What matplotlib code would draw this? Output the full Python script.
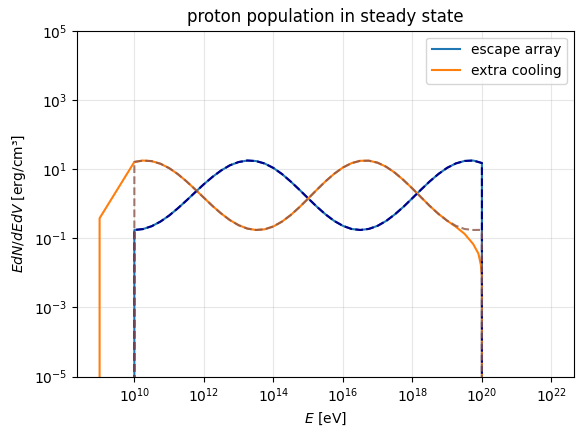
import matplotlib
matplotlib.use("Agg")
import matplotlib.pyplot as plt

# energies (log10 E/eV) on a quarter-decade grid from 1e10 to 1e20
log_e = [10 + 0.25 * i for i in range(41)]

# escape array (solid blue / dashed navy)
escape = [0.174, 0.185, 0.224, 0.304, 0.454, 0.735, 1.24, 2.14, 3.66, 5.98,
          9.18, 12.9, 16.0, 17.7, 17.1, 14.5, 10.8, 7.18, 4.36, 2.53,
          1.43, 0.820, 0.492, 0.318, 0.229, 0.186, 0.174, 0.187, 0.230, 0.320,
          0.496, 0.826, 1.45, 2.56, 4.43, 7.24, 10.9, 14.6, 17.2, 17.7,
          15.0]

# reference spectrum without the extra cooling (dashed brown)
no_cooling = [16.1, 17.7, 17.0, 14.3, 10.7, 7.18, 4.43, 2.59, 1.49, 0.859,
              0.519, 0.335, 0.239, 0.191, 0.174, 0.182, 0.220, 0.305, 0.471, 0.794,
              1.41, 2.53, 4.44, 7.33, 11.1, 14.9, 17.4, 17.5, 15.3, 11.6,
              7.80, 4.76, 2.74, 1.53, 0.859, 0.507, 0.323, 0.230, 0.186, 0.174,
              0.175]

# extra cooling (solid orange): starts at 1e9, cut-off bends down near 1e20
cool_log_e = [9.0, 9.0] + log_e[:37] + [19.25, 19.5, 19.75, 19.9, 19.97, 20.0, 20.0]
cool_vals = [0.0, 0.38] + no_cooling[:37] + [0.215, 0.135, 0.068, 0.036, 0.017, 0.008, 0.0]

# the step-like edges at 1e10 and 1e20
esc_e = [10**v for v in [10.0] + log_e + [20.0]]
esc_y = [0.0] + escape + [0.0]
ref_y = [0.0] + no_cooling + [0.0]
cool_e = [10**v for v in cool_log_e]

fig = plt.figure(figsize=(5.82, 4.37), dpi=100)
fig.subplots_adjust(left=0.1323, right=0.9863, bottom=0.138, top=0.9297)
ax = fig.add_subplot(111)

ax.plot(esc_e, esc_y, color="tab:blue", label="escape array")
ax.plot(cool_e, cool_vals, color="tab:orange", label="extra cooling")
ax.plot(esc_e, esc_y, color="darkblue", ls="--")
ax.plot(esc_e, ref_y, color="tab:brown", ls="--", alpha=0.8)

ax.set_xscale("log")
ax.set_yscale("log")
ax.set_xlim(10**8.35, 10**22.65)
ax.set_ylim(1e-5, 1e5)
ax.grid(alpha=0.3)
ax.set_xlabel("$E$ [eV]")
ax.set_ylabel("$EdN/dEdV$ [erg/cm³]")
ax.set_title("proton population in steady state")
ax.legend(loc="upper right")

fig.savefig("out.png", dpi=100)
